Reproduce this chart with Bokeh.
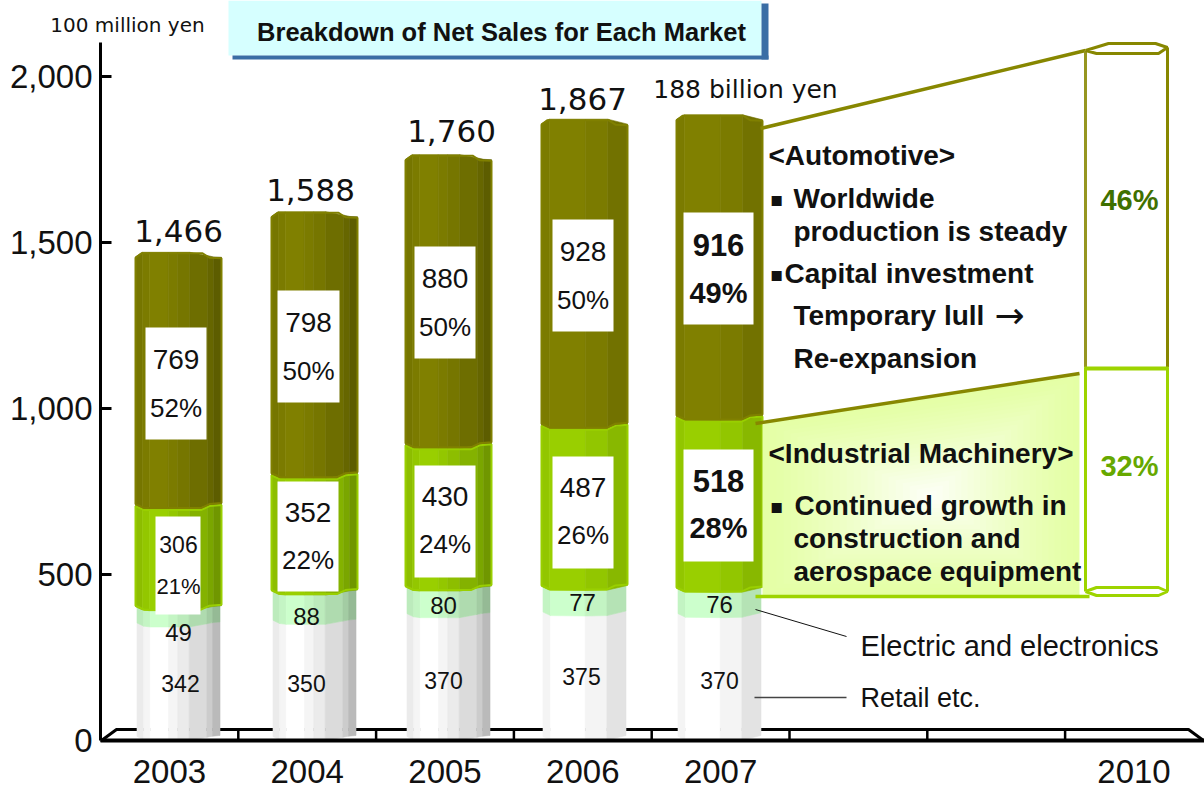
from bokeh.plotting import figure
from bokeh.embed import file_html
from bokeh.resources import INLINE
from bokeh.core.properties import value
from bokeh.models import Range1d, FixedTicker

# ---- data ----
years = ["2003", "2004", "2005", "2006", "2007"]
all_year_labels = years + ["2010"]
retail = [342, 350, 370, 375, 370]
electric = [49, 88, 80, 77, 76]
industrial = [306, 352, 430, 487, 518]
automotive = [769, 798, 880, 928, 916]
totals = [1466, 1588, 1760, 1867, 1881]
total_labels = ["1,466", "1,588", "1,760", "1,867"]
ind_pct = ["21%", "22%", "24%", "26%", "28%"]
auto_pct = ["52%", "50%", "50%", "50%", "49%"]
target_share = ["46%", "32%"]
y_ticks = [0, 500, 1000, 1500, 2000]

W, H = 1204, 789
X0, Y0 = 100, 740
SLOT, YS = 137.8, 0.332


def xd(px):
    return (px - X0) / SLOT


def yd(py):
    return (Y0 - py) / YS


p = figure(width=W, height=H, output_backend="svg", toolbar_location=None,
           x_range=Range1d(xd(0), xd(W)), y_range=Range1d(yd(H), yd(0)),
           min_border_left=0, min_border_right=0, min_border_top=0, min_border_bottom=0,
           outline_line_color=None, background_fill_color="white", border_fill_color="white")
p.margin = 0
p.grid.visible = False

ya = p.yaxis[0]
ya.fixed_location = 0
ya.ticker = FixedTicker(ticks=y_ticks)
ya.bounds = (0, yd(42))
ya.major_label_overrides = {t: f"{t:,}" for t in y_ticks}
ya.major_label_text_font = "Liberation Sans"
ya.major_label_text_font_size = "33px"
ya.major_label_text_color = "#111111"
ya.major_label_standoff = 8
ya.major_tick_in = 11
ya.major_tick_out = 0
ya.major_tick_line_width = 3
ya.major_tick_line_color = "black"
ya.minor_tick_line_color = None
ya.axis_line_width = 3
ya.axis_line_color = "black"

label_slots = [i + 0.5 for i in range(5)] + [7.5]
xa = p.xaxis[0]
xa.fixed_location = 0
xa.ticker = FixedTicker(ticks=label_slots)
xa.bounds = (0, xd(W))
xa.major_label_overrides = dict(zip(label_slots, all_year_labels))
xa.major_label_text_font = "Liberation Sans"
xa.major_label_text_font_size = "33px"
xa.major_label_text_color = "#111111"
xa.major_label_standoff = 13
xa.major_tick_line_color = None
xa.minor_tick_line_color = None
xa.axis_line_width = 4
xa.axis_line_color = "black"

# 3-D floor behind the bars
p.line([xd(101), xd(116), xd(1188), xd(1203)], [yd(740), yd(729), yd(729), yd(740)],
       line_color="black", line_width=3)
p.segment(x0=list(range(1, 8)), y0=[yd(740)] * 7, x1=list(range(1, 8)), y1=[yd(729)] * 7,
          line_color="black", line_width=2.5)

# ---- faceted cylinder bars ----
BAR_W = 86
facets_a = ([0, .08, .16, .38, .49, .63, .84, .91, 1], [.08, .04, 0, .04, .08, .14, .20, .27])
facets_b = ([0, .09, .51, .77, 1], [.05, 0, .05, .13])
bar_facets = [facets_a, facets_a, facets_a, facets_b, facets_b]
bar_centres = [178, 314, 448, 584, 719]


def mix(col, d):
    return "#%02x%02x%02x" % tuple(int(round(c * (1 - d))) for c in col)


def edge(f):
    """boundary offset (px) across the cylinder"""
    pts = [(0, 4), (.1, 0), (.76, 0), (.86, 4), (1, 5)]
    for (a, u), (b, v) in zip(pts, pts[1:]):
        if a <= f <= b:
            return u + (v - u) * (f - a) / (b - a)
    return 0


def top_edge(f):
    pts = [(0, -3), (.07, 1.5), (.78, 1.5), (.86, -3), (1, -3.5)]
    for (a, u), (b, v) in zip(pts, pts[1:]):
        if a <= f <= b:
            return u + (v - u) * (f - a) / (b - a)
    return 0


segs = [(retail, (255, 255, 255), 1.5), (electric, (204, 255, 204), 1.5),
        (industrial, (153, 207, 0), 0), (automotive, (128, 128, 0), 0)]

xs, ys, cols = [], [], []
rim_x, rim_y, rim_c = [], [], []
for i in range(5):
    cx = bar_centres[i]
    stops, darks = bar_facets[i]
    base = 0
    for k, (vals, col, inset) in enumerate(segs):
        bot, top = base, base + vals[i]
        base = top
        top_fn = top_edge if k == 3 else edge
        L, R = cx - BAR_W / 2 + inset, cx + BAR_W / 2 - inset
        for j, d in enumerate(darks):
            f0, f1 = stops[j], stops[j + 1]
            l = L + f0 * (R - L)
            r = L + f1 * (R - L)
            xs.append([xd(l), xd(r), xd(r), xd(l)])
            ys.append([bot + edge(f0) / YS, bot + edge(f1) / YS,
                       top + top_fn(f1) / YS, top + top_fn(f0) / YS])
            cols.append(mix(col, d * (0.85 if i >= 3 else 1)))
        if k >= 2:
            # bright rim that runs round the coloured parts of each column
            fr = [0, .07, .1, .76, .78, .86, 1]
            sx = [L + f * (R - L) + 0.0 for f in fr]
            rx = [xd(v) for v in sx] + [xd(v) for v in sx[::-1]]
            ry = [bot + edge(f) / YS + 1 / YS for f in fr] + [top + top_fn(f) / YS - 1 / YS for f in fr[::-1]]
            rim_x.append(rx)
            rim_y.append(ry)
            rim_c.append("#%02x%02x%02x" % col)
p.patches(xs, ys, fill_color=cols, line_color=cols, line_width=0.6)
p.patches(rim_x, rim_y, fill_color=None, line_color=rim_c, line_width=2)


def text(px, py, s, size, align="center", color="#111111", bold=False, font="Liberation Sans"):
    p.text([xd(px)], [yd(py)], text=[s], text_font=value(font), text_font_size=f"{size}px",
           text_align=align, text_baseline="middle", text_color=color,
           text_font_style="bold" if bold else "normal")


def box(x0, x1, y0, y1, color="white"):
    p.quad(left=[xd(x0)], right=[xd(x1)], top=[yd(y0)], bottom=[yd(y1)],
           fill_color=color, line_color=None)


# white value boxes
auto_boxes = [(145, 206, 327), (277, 339, 290), (414, 475, 246), (552, 613, 219), (683, 753, 212)]
ind_boxes = [(155, 200, 516, 614), (277, 338, 481, 591), (414, 475, 465, 577), (552, 613, 456, 568), (683, 753, 449, 561)]
for i, (a, b, t) in enumerate(auto_boxes):
    box(a, b, t, t + 112)
    cx = (a + b) / 2
    big = 31 if i == 4 else 28
    text(cx, t + 32, str(automotive[i]), big, bold=i == 4)
    text(cx, t + 80, auto_pct[i], big - 2, bold=i == 4)
for i, (a, b, t, u) in enumerate(ind_boxes):
    box(a, b, t, u)
    cx = (a + b) / 2
    if i == 0:
        text(cx + 0.5, 544, str(industrial[i]), 23)
        text(cx + 0.5, 586, ind_pct[i], 22)
    else:
        big = 31 if i == 4 else 28
        text(cx, t + 31, str(industrial[i]), big, bold=i == 4)
        text(cx, t + 78, ind_pct[i], big - 2, bold=i == 4)

elec_pos = [(178, 632), (306, 616), (443, 605), (582, 602), (719, 604)]
ret_pos = [(180, 683), (306, 683), (443, 680), (581, 676), (719, 680)]
for i in range(5):
    text(*elec_pos[i], str(electric[i]), 24)
    text(*ret_pos[i], str(retail[i]), 23)

# total labels
total_pos = [(178, 230), (310, 189), (451, 130), (582, 98)]
for (px, py), s in zip(total_pos, total_labels):
    text(px, py, s, 31, font="DejaVu Sans")
text(745, 89, "188 billion yen", 25, font="DejaVu Sans")
text(127, 24, "100 million yen", 20, font="DejaVu Sans")

# title
box(228, 761, 0, 55, "#d6ffff")
box(232, 768, 55, 59, "#3a6ea5")
box(761, 768, 3, 59, "#3a6ea5")
text(501, 31, "Breakdown of Net Sales for Each Market", 25.5, bold=True)

# call-out gradient panel
poly = [(762, 421), (1079, 373), (1079, 596), (762, 596)]
cx0, cy0 = 930, 495
outer, inner = (228, 255, 165), (252, 255, 245)
N = 24
for n in range(N):
    t = n / (N - 1)
    s = 1 - t * 0.96
    c = tuple(int(round(a + (b - a) * t ** 1.2)) for a, b in zip(outer, inner))
    p.patch([xd(cx0 + (a - cx0) * s) for a, _ in poly], [yd(cy0 + (b - cy0) * s) for _, b in poly],
            fill_color="#%02x%02x%02x" % c, line_color=None)

OLIVE, GREEN = "#878700", "#9dd400"
p.line([xd(760), xd(1085)], [yd(128), yd(50)], line_color=OLIVE, line_width=3.5)
p.line([xd(755), xd(1079)], [yd(423), yd(373)], line_color=OLIVE, line_width=3.5)
p.line([xd(755), xd(1089)], [yd(596), yd(596)], line_color=GREEN, line_width=3.5)

# 2010 column
p.line([xd(1085), xd(1085)], [yd(50), yd(367)], line_color="#969620", line_width=3)
p.line([xd(1167), xd(1167)], [yd(47), yd(367)], line_color=OLIVE, line_width=3)
hx = [1085, 1108, 1155, 1167, 1158, 1096, 1085]
hy = [50, 43, 43, 47, 53, 53, 50]
p.line([xd(v) for v in hx], [yd(v) for v in hy], line_color=OLIVE, line_width=3)
p.line([xd(1085), xd(1085)], [yd(367), yd(591)], line_color=GREEN, line_width=3)
p.line([xd(1167), xd(1167)], [yd(367), yd(591)], line_color=GREEN, line_width=3)
p.line([xd(1084), xd(1168)], [yd(368), yd(368)], line_color=GREEN, line_width=4)
hx = [1085, 1096, 1158, 1167, 1158, 1096, 1085]
hy = [591, 587, 587, 591, 595, 595, 591]
p.line([xd(v) for v in hx], [yd(v) for v in hy], line_color=GREEN, line_width=3)
text(1129, 199, target_share[0], 29, color="#3f7000", bold=True)
text(1129, 465, target_share[1], 29, color="#66a800", bold=True)

# notes
B = 28
text(768, 155, "<Automotive>", B, "left", bold=True)
text(776, 198, "▪", 20, font="DejaVu Sans")
text(793, 198, "Worldwide", B, "left", bold=True)
text(793, 231, "production is steady", B, "left", bold=True)
text(776, 273, "▪", 20, font="DejaVu Sans")
text(784, 273, "Capital investment", B, "left", bold=True)
text(793, 315, "Temporary lull", B, "left", bold=True)
text(1009, 315, "→", 36, font="DejaVu Sans")
text(793, 358, "Re-expansion", B, "left", bold=True)
text(768, 453, "<Industrial Machinery>", B, "left", bold=True)
text(776, 505, "▪", 20, font="DejaVu Sans")
text(794, 505, "Continued growth in", B, "left", bold=True)
text(793, 538, "construction and", B, "left", bold=True)
text(793, 571, "aerospace equipment", B, "left", bold=True)
text(860, 645, "Electric and electronics", 29, "left")
text(860, 697, "Retail etc.", 27, "left")

p.line([xd(755), xd(846)], [yd(609), yd(636)], line_color="#111111", line_width=1)
p.line([xd(754), xd(846)], [yd(697), yd(697)], line_color="#444444", line_width=1.5)

open("out.html", "w").write(file_html(p, INLINE))
